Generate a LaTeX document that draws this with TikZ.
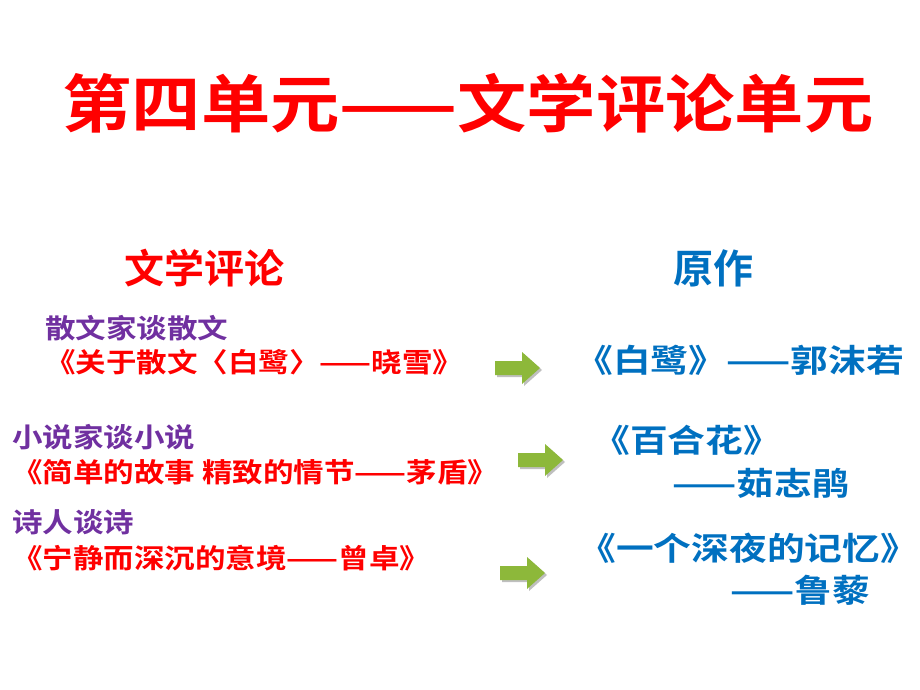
\documentclass[tikz,border=0pt]{standalone}
\usepackage{fontspec}
\newfontfamily\cjkb{Noto Sans CJK SC Bold}
\definecolor{tred}{HTML}{FF0000}
\definecolor{tpur}{HTML}{7030A0}
\definecolor{tblu}{HTML}{0070C0}
\definecolor{agrn}{HTML}{8DB83A}
\begin{document}
\begin{tikzpicture}[x=1pt,y=-1pt,
  t/.style={inner sep=0pt,anchor=west,xscale=1.13,font=\cjkb\fontsize{27}{29}\selectfont},
  bl/.style={inner sep=0pt,anchor=west,xscale=1.18,text=tblu,font=\cjkb\fontsize{32}{34}\selectfont}]
\useasboundingbox (0,0) rectangle (920,690);
\node[inner sep=0pt,xscale=1.1,text=tred,font=\cjkb\fontsize{63}{65}\selectfont] (title) at (468,103) {第四单元——文学评论单元};
\node[inner sep=0pt,text=tred,font=\cjkb\fontsize{40}{42}\selectfont] (h1) at (204,268) {文学评论};
\node[inner sep=0pt,text=tblu,font=\cjkb\fontsize{40}{42}\selectfont] (h2) at (713,268) {原作};
\node[t,text=tpur] (a1) at (45,328) {散文家谈散文};
\node[t,text=tred] (a2) at (45,362) {《关于散文〈白鹭〉——晓雪》};
\node[bl] (b1) at (575,360) {《白鹭》——郭沫若};
\node[t,text=tpur] (c1) at (12,437) {小说家谈小说};
\node[t,text=tred] (c2) at (12,472) {《简单的故事\ 精致的情节——茅盾》};
\node[bl] (d1) at (592,440) {《百合花》};
\node[bl] (d2) at (672,483) {——茹志鹃};
\node[t,text=tpur] (e1) at (12,522) {诗人谈诗};
\node[t,text=tred] (e2) at (12,558) {《宁静而深沉的意境——曾卓》};
\node[bl] (f1) at (578,548) {《一个深夜的记忆》};
\node[bl] (f2) at (730,590) {——鲁藜};
\foreach \x/\y in {495/368, 518/460, 500/573}{
  \fill[black!25] (\x+2,\y-7+2) -- (\x+27+2,\y-7+2) -- (\x+27+2,\y-16+2) -- (\x+45+2,\y+2) -- (\x+27+2,\y+16+2) -- (\x+27+2,\y+7+2) -- (\x+2,\y+7+2) -- cycle;
  \fill[agrn] (\x,\y-7) -- (\x+27,\y-7) -- (\x+27,\y-16) -- (\x+45,\y) -- (\x+27,\y+16) -- (\x+27,\y+7) -- (\x,\y+7) -- cycle;
}
\end{tikzpicture}
\end{document}
